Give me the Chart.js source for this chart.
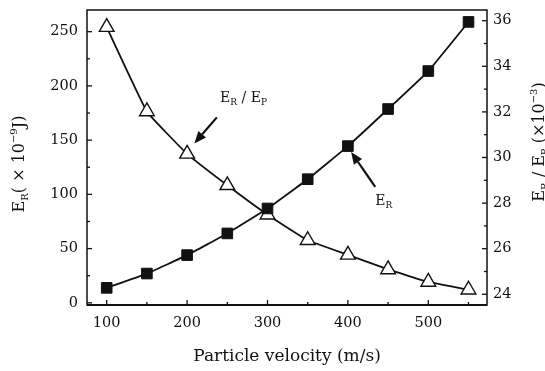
<!DOCTYPE html>
<html>
<head>
<meta charset="utf-8">
<script src="https://cdn.jsdelivr.net/npm/chart.js@4"></script>
<style>
html, body { margin: 0; padding: 0; background: #fff; }
</style>
</head>
<body>
<canvas id="chart" width="545" height="371"></canvas>
<script>
// data
var velocity = [100, 150, 200, 250, 300, 350, 400, 450, 500, 550];
var energyR = [13.8, 27, 44, 64, 87, 114, 144.5, 178.7, 213.7, 259];
var ratioRP = [35.72, 32.02, 30.16, 28.78, 27.49, 26.37, 25.73, 25.09, 24.54, 24.2];

// tick labels
var xTicks = [100, 200, 300, 400, 500];
var xMinor = [150, 250, 350, 450, 550];
var leftTicks = [0, 50, 100, 150, 200, 250];
var leftMinor = [25, 75, 125, 175, 225];
var rightTicks = [24, 26, 28, 30, 32, 34, 36];
var rightMinor = [25, 27, 29, 31, 33, 35];

var FONT = '"DejaVu Serif", serif';

function toPoints(xs, ys) {
    return xs.map(function (x, i) { return { x: x, y: ys[i] }; });
}

// 文字列を部分ごとに描く (添字用)
function richText(ctx, parts, x, y, align) {
    var total = 0;
    parts.forEach(function (p) {
        ctx.font = p[1] + 'px ' + FONT;
        total += ctx.measureText(p[0]).width;
    });
    var cx = align === 'center' ? x - total / 2 : x;
    parts.forEach(function (p) {
        ctx.font = p[1] + 'px ' + FONT;
        ctx.fillText(p[0], cx, y + p[2]);
        cx += ctx.measureText(p[0]).width;
    });
}

function arrow(ctx, x1, y1, x2, y2) {
    var a = Math.atan2(y2 - y1, x2 - x1);
    var len = 12, w = 5;
    var bx = x2 - Math.cos(a) * len, by = y2 - Math.sin(a) * len;
    ctx.beginPath();
    ctx.moveTo(x1, y1);
    ctx.lineTo(bx, by);
    ctx.lineWidth = 2.2;
    ctx.stroke();
    ctx.beginPath();
    ctx.moveTo(x2, y2);
    ctx.lineTo(bx + Math.sin(a) * w, by - Math.cos(a) * w);
    ctx.lineTo(bx - Math.sin(a) * w, by + Math.cos(a) * w);
    ctx.closePath();
    ctx.fill();
}

var framePlugin = {
    id: 'frame',
    afterDraw: function (chart) {
        var ctx = chart.ctx;
        var area = chart.chartArea;
        var sx = chart.scales.x, sl = chart.scales.yL, sr = chart.scales.yR;
        ctx.save();
        ctx.strokeStyle = '#111';
        ctx.fillStyle = '#111';

        // 枠
        ctx.lineWidth = 1.5;
        ctx.strokeRect(area.left, area.top, area.right - area.left, area.bottom - area.top);
        ctx.lineWidth = 2.2;
        ctx.beginPath();
        ctx.moveTo(area.left, area.bottom);
        ctx.lineTo(area.right, area.bottom);
        ctx.stroke();

        // 内向きの目盛り
        ctx.lineWidth = 1.3;
        function tickX(v, len) {
            var p = sx.getPixelForValue(v);
            ctx.beginPath(); ctx.moveTo(p, area.bottom); ctx.lineTo(p, area.bottom - len); ctx.stroke();
        }
        function tickL(v, len) {
            var p = sl.getPixelForValue(v);
            ctx.beginPath(); ctx.moveTo(area.left, p); ctx.lineTo(area.left + len, p); ctx.stroke();
        }
        function tickR(v, len) {
            var p = sr.getPixelForValue(v);
            ctx.beginPath(); ctx.moveTo(area.right, p); ctx.lineTo(area.right - len, p); ctx.stroke();
        }
        xTicks.forEach(function (v) { tickX(v, 5); });
        xMinor.forEach(function (v) { tickX(v, 3); });
        leftTicks.forEach(function (v) { tickL(v, 5); });
        leftMinor.forEach(function (v) { tickL(v, 3); });
        rightTicks.forEach(function (v) { tickR(v, 5); });
        rightMinor.forEach(function (v) { tickR(v, 3); });

        // 縦軸タイトル (下から上へ)
        ctx.textBaseline = 'alphabetic';
        ctx.save();
        ctx.translate(18, 164);
        ctx.rotate(-Math.PI / 2);
        richText(ctx, [['E', 16, 0], ['R', 10, 4], ['( \u00d7 10', 16, 0], ['\u22129', 10, -7], ['J)', 16, 0]], 0, 6, 'center');
        ctx.restore();

        ctx.save();
        ctx.translate(538, 142);
        ctx.rotate(-Math.PI / 2);
        richText(ctx, [['E', 16, 0], ['R', 10, 4], [' / E', 16, 0], ['P', 10, 4], [' (\u00d710', 16, 0], ['\u22123', 10, -7], [')', 16, 0]], 0, 6, 'center');
        ctx.restore();

        // 注記
        richText(ctx, [['E', 14, 0], ['R', 9, 3], [' / E', 14, 0], ['P', 9, 3]],
            sx.getPixelForValue(241), sl.getPixelForValue(185), 'left');
        arrow(ctx, sx.getPixelForValue(237), sl.getPixelForValue(171),
            sx.getPixelForValue(209), sl.getPixelForValue(147));

        richText(ctx, [['E', 14, 0], ['R', 9, 3]],
            sx.getPixelForValue(434), sl.getPixelForValue(90), 'left');
        arrow(ctx, sx.getPixelForValue(434), sl.getPixelForValue(107),
            sx.getPixelForValue(404), sl.getPixelForValue(139));

        ctx.restore();
    }
};

function fixTicks(list) {
    return function (scale) {
        scale.ticks = list.map(function (v) { return { value: v }; });
    };
}

// 軸ラベルのはみ出し分の余白を消す
function fixSize(key, size) {
    return function (s) {
        s[key] = size;
        s.paddingTop = 0;
        s.paddingBottom = 0;
        s.paddingLeft = 0;
        s.paddingRight = 0;
    };
}

var tickFont = { family: FONT, size: 14.5 };

new Chart(document.getElementById('chart'), {
    type: 'line',
    data: {
        datasets: [{
            label: 'ER',
            data: toPoints(velocity, energyR),
            yAxisID: 'yL',
            borderColor: '#111',
            borderWidth: 1.8,
            pointStyle: 'rect',
            pointRadius: 7.5,
            pointBackgroundColor: '#111',
            pointBorderColor: '#111',
            pointBorderWidth: 1,
            tension: 0.1
        }, {
            label: 'ER/EP',
            data: toPoints(velocity, ratioRP),
            yAxisID: 'yR',
            borderColor: '#111',
            borderWidth: 1.8,
            pointStyle: 'triangle',
            pointRadius: 8.5,
            pointBackgroundColor: '#fff',
            pointBorderColor: '#111',
            pointBorderWidth: 1.4,
            tension: 0.1
        }]
    },
    options: {
        responsive: false,
        animation: false,
        layout: { padding: { top: 10, left: 0, right: 0, bottom: 0 } },
        plugins: {
            legend: { display: false },
            tooltip: { enabled: false }
        },
        scales: {
            x: {
                type: 'linear',
                position: 'bottom',
                min: 75.5,
                max: 573,
                afterBuildTicks: fixTicks(xTicks),
                afterFit: fixSize('height', 66),
                grid: { display: false, drawTicks: false },
                border: { display: false },
                ticks: { font: tickFont, color: '#111', padding: 10, maxRotation: 0 },
                title: {
                    display: true,
                    text: 'Particle velocity (m/s)',
                    font: { family: FONT, size: 17 },
                    color: '#111',
                    padding: { top: 0, bottom: 4 }
                }
            },
            yL: {
                type: 'linear',
                position: 'left',
                min: -2,
                max: 270,
                afterBuildTicks: fixTicks(leftTicks),
                afterFit: fixSize('width', 87),
                grid: { display: false, drawTicks: false },
                border: { display: false },
                ticks: { font: tickFont, color: '#111', padding: 9 }
            },
            yR: {
                type: 'linear',
                position: 'right',
                min: 23.53,
                max: 36.47,
                afterBuildTicks: fixTicks(rightTicks),
                afterFit: fixSize('width', 58),
                grid: { display: false, drawTicks: false },
                border: { display: false },
                ticks: { font: tickFont, color: '#111', padding: 6 }
            }
        }
    },
    plugins: [framePlugin]
});
</script>
</body>
</html>
